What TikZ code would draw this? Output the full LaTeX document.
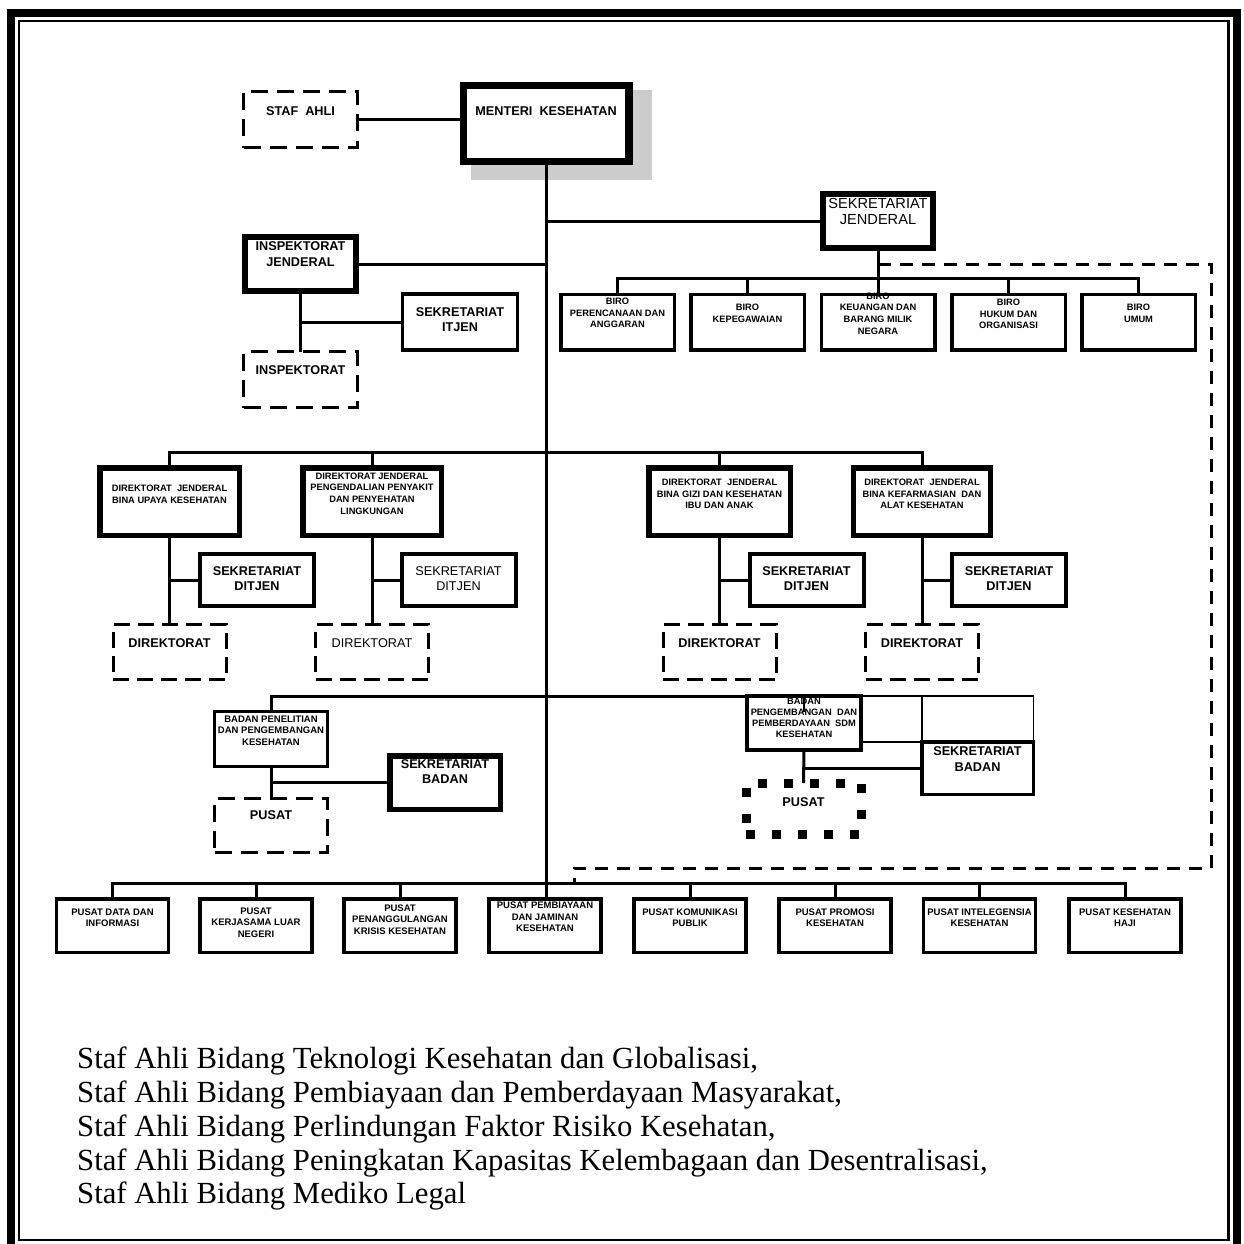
\documentclass[tikz,border=0pt]{standalone}
\usepackage{fontspec}
\setmainfont{Liberation Serif}
\setsansfont{Liberation Sans}
\begin{document}
\begin{tikzpicture}[x=1pt,y=-1pt,
  orgbox/.style={draw,line width=3.5pt,inner sep=0pt,outer sep=0pt},
  heavybox/.style={orgbox,line width=5.5pt},
  sekbox/.style={orgbox,line width=4pt},
  dashbox/.style={orgbox,line width=3pt,dash pattern=on 17pt off 9pt},
  dotbox/.style={orgbox,line width=9pt,dash pattern=on 9pt off 17pt},
  conn/.style={line width=3pt},
  gridline/.style={line width=1.5pt},
  bigtxt/.style={font=\sffamily\bfseries\fontsize{12.7}{15.5}\selectfont,align=center,inner sep=0pt},
  plaintxt/.style={bigtxt,font=\sffamily\mdseries\fontsize{12.7}{15.5}\selectfont},
  smalltxt/.style={font=\sffamily\bfseries\fontsize{9.3}{11.7}\selectfont,align=center,inner sep=0pt},
  pusattxt/.style={smalltxt,font=\sffamily\bfseries\fontsize{9.5}{11.3}\selectfont}]
\useasboundingbox (0,0) rectangle (1243,1244);
\draw [line width=8pt] (11,1244) -- (11,13) -- (1237,13) -- (1237,1244);
\draw [line width=2.5pt] (19,21) rectangle (1228.5,1240);
\fill [black!20] (471,90) rectangle (652,180);
\node [dashbox,minimum width=114,minimum height=56] (stafahli) at (300.5,119.5) {};
\node [orgbox,line width=7.5pt,fill=white,minimum width=165.5,minimum height=75.5] (menteri) at (546,123.5) {};
\node [orgbox,line width=6pt,minimum width=110,minimum height=54] (sekjen) at (878,221) {};
\node [orgbox,line width=6pt,minimum width=111,minimum height=54] (itjen) at (300.5,264) {};
\node [orgbox,minimum width=115,minimum height=56] (sitjen) at (460,322) {};
\node [dashbox,minimum width=114,minimum height=56] (insp) at (300.5,379.5) {};
\node [orgbox,minimum width=113.5,minimum height=55.5] (biro1) at (617.5,322) {};
\node [orgbox,minimum width=113.5,minimum height=55.5] (biro2) at (747.5,322) {};
\node [orgbox,minimum width=113.5,minimum height=55.5] (biro3) at (878,322) {};
\node [orgbox,minimum width=113.5,minimum height=55.5] (biro4) at (1008.5,322) {};
\node [orgbox,minimum width=113.5,minimum height=55.5] (biro5) at (1138.5,322) {};
\node [heavybox,minimum width=139.5,minimum height=67.5] (dj1) at (169.5,501.5) {};
\node [heavybox,minimum width=138.5,minimum height=67.5] (dj2) at (372,501.5) {};
\node [heavybox,minimum width=141.5,minimum height=67.5] (dj3) at (719.5,501.5) {};
\node [heavybox,minimum width=137,minimum height=67.5] (dj4) at (922,501.5) {};
\node [sekbox,minimum width=114,minimum height=52] (sd1) at (257,580) {};
\node [sekbox,minimum width=114,minimum height=52] (sd2) at (458.5,580) {};
\node [sekbox,minimum width=114,minimum height=52] (sd3) at (806.5,580) {};
\node [sekbox,minimum width=114,minimum height=52] (sd4) at (1009,580) {};
\node [dashbox,dash pattern=on 16pt off 8pt,minimum width=113,minimum height=55] (dir1) at (169.5,652) {};
\node [dashbox,dash pattern=on 16pt off 8pt,minimum width=113,minimum height=55] (dir2) at (372,652) {};
\node [dashbox,dash pattern=on 16pt off 8pt,minimum width=113,minimum height=55] (dir3) at (719.5,652) {};
\node [dashbox,dash pattern=on 16pt off 8pt,minimum width=113,minimum height=55] (dir4) at (922,652) {};
\node [orgbox,line width=3pt,minimum width=113,minimum height=55] (bppk) at (271,739) {};
\node [heavybox,minimum width=110.5,minimum height=53.5] (sbadan1) at (445,782.5) {};
\node [dashbox,minimum width=113,minimum height=54] (pusat1) at (271,825.5) {};
\node [sekbox,minimum width=114,minimum height=54] (bppsdm) at (804,723) {};
\node [orgbox,minimum width=111.5,minimum height=52.5] (sbadan2) at (977.5,768) {};
\node [dotbox,minimum width=115,minimum height=51] (pusat2) at (803.5,808.5) {};
\node [orgbox,minimum width=112,minimum height=53.5] (p1) at (112.5,925.5) {};
\node [orgbox,minimum width=112,minimum height=53.5] (p2) at (256,925.5) {};
\node [orgbox,minimum width=112,minimum height=53.5] (p3) at (400,925.5) {};
\node [orgbox,minimum width=112,minimum height=53.5] (p4) at (545,925.5) {};
\node [orgbox,minimum width=112,minimum height=53.5] (p5) at (690,925.5) {};
\node [orgbox,minimum width=112,minimum height=53.5] (p6) at (835,925.5) {};
\node [orgbox,minimum width=112,minimum height=53.5] (p7) at (979.5,925.5) {};
\node [orgbox,minimum width=112,minimum height=53.5] (p8) at (1125,925.5) {};
\node [bigtxt] (tstafahli) at (300.5,111) {STAF\ \ AHLI};
\node [bigtxt] (tmenteri) at (546,111) {MENTERI\ \ KESEHATAN};
\node [plaintxt,font=\sffamily\mdseries\fontsize{14.6}{16}\selectfont] (tsekjen) at (878,211) {SEKRETARIAT\\JENDERAL};
\node [bigtxt] (titjen) at (300.5,254) {INSPEKTORAT\\JENDERAL};
\node [bigtxt] (tsitjen) at (460,319.5) {SEKRETARIAT\\ITJEN};
\node [bigtxt] (tinsp) at (300.5,370) {INSPEKTORAT};
\node [smalltxt] (tbiro1) at (617.5,313) {BIRO\\PERENCANAAN DAN\\ANGGARAN};
\node [smalltxt] (tbiro2) at (747.5,313) {BIRO\\KEPEGAWAIAN};
\node [smalltxt] (tbiro3) at (878,313.5) {BIRO\\KEUANGAN DAN\\BARANG MILIK\\NEGARA};
\node [smalltxt] (tbiro4) at (1008.5,314) {BIRO\\HUKUM DAN\\ORGANISASI};
\node [smalltxt] (tbiro5) at (1138.5,313) {BIRO\\UMUM};
\node [smalltxt] (tdj1) at (169.5,494) {DIREKTORAT\ \ JENDERAL\\BINA UPAYA KESEHATAN};
\node [smalltxt] (tdj2) at (372,493.5) {DIREKTORAT JENDERAL\\PENGENDALIAN PENYAKIT\\DAN PENYEHATAN\\LINGKUNGAN};
\node [smalltxt] (tdj3) at (719.5,494) {DIREKTORAT\ \ JENDERAL\\BINA GIZI DAN KESEHATAN\\IBU DAN ANAK};
\node [smalltxt] (tdj4) at (922,494) {DIREKTORAT\ \ JENDERAL\\BINA KEFARMASIAN\ \ DAN\\ALAT KESEHATAN};
\node [bigtxt] (tsd1) at (257,578.5) {SEKRETARIAT\\DITJEN};
\node [plaintxt] (tsd2) at (458.5,578.5) {SEKRETARIAT\\DITJEN};
\node [bigtxt] (tsd3) at (806.5,578.5) {SEKRETARIAT\\DITJEN};
\node [bigtxt] (tsd4) at (1009,578.5) {SEKRETARIAT\\DITJEN};
\node [bigtxt] (tdir1) at (169.5,643) {DIREKTORAT};
\node [plaintxt] (tdir2) at (372,643) {DIREKTORAT};
\node [bigtxt] (tdir3) at (719.5,643) {DIREKTORAT};
\node [bigtxt] (tdir4) at (922,643) {DIREKTORAT};
\node [smalltxt,font=\sffamily\bfseries\fontsize{9.5}{11.5}\selectfont] (tbppk) at (271,730.7) {BADAN PENELITIAN\\DAN PENGEMBANGAN\\KESEHATAN};
\node [bigtxt] (tsbadan1) at (445,771.5) {SEKRETARIAT\\BADAN};
\node [bigtxt] (tpusat1) at (271,815) {PUSAT};
\node [smalltxt,font=\sffamily\bfseries\fontsize{9.3}{11}\selectfont] (tbppsdm) at (804,717.75) {BADAN\\PENGEMBANGAN\ \ DAN\\PEMBERDAYAAN\ \ SDM\\KESEHATAN};
\node [bigtxt] (tsbadan2) at (977.5,759) {SEKRETARIAT\\BADAN};
\node [bigtxt] (tpusat2) at (803.5,802) {PUSAT};
\node [pusattxt] (tp1) at (112.5,917.5) {PUSAT DATA DAN\\INFORMASI};
\node [pusattxt] (tp2) at (256,922.5) {PUSAT\\KERJASAMA LUAR\\NEGERI};
\node [pusattxt] (tp3) at (400,919.5) {PUSAT\\PENANGGULANGAN\\KRISIS KESEHATAN};
\node [pusattxt] (tp4) at (545,917) {PUSAT PEMBIAYAAN\\DAN JAMINAN\\KESEHATAN};
\node [pusattxt] (tp5) at (690,917.5) {PUSAT KOMUNIKASI\\PUBLIK};
\node [pusattxt] (tp6) at (835,917.5) {PUSAT PROMOSI\\KESEHATAN};
\node [pusattxt] (tp7) at (979.5,917.5) {PUSAT INTELEGENSIA\\KESEHATAN};
\node [pusattxt] (tp8) at (1125,917.5) {PUSAT KESEHATAN\\HAJI};
\node [anchor=north west,inner sep=0pt,align=left,font=\rmfamily\fontsize{30.7}{33.75}\selectfont] (stafnote) at (77,1047) {Staf Ahli Bidang Teknologi Kesehatan dan Globalisasi,\\Staf Ahli Bidang Pembiayaan dan Pemberdayaan Masyarakat,\\Staf Ahli Bidang Perlindungan Faktor Risiko Kesehatan,\\Staf Ahli Bidang Peningkatan Kapasitas Kelembagaan dan Desentralisasi,\\Staf Ahli Bidang Mediko Legal};
\coordinate (birobus) at (878,278);
\coordinate (djbus) at (546,452);
\coordinate (badanbus) at (546,696);
\coordinate (pusatbus) at (546,883);
\coordinate (sjtap) at (878,264);
\coordinate (ptap) at (574,883);
\draw [conn] (stafahli.east) -- (menteri.west |- stafahli.east);
\draw [conn] (menteri.south) -- (menteri.south |- p4.north);
\draw [conn] (menteri.south |- sekjen.west) -- (sekjen.west);
\draw [conn] (itjen.east) -- (menteri.south |- itjen.east);
\draw [conn] (itjen.south) -- (insp.north);
\draw [conn] (itjen.south |- sitjen.west) -- (sitjen.west);
\draw [conn] (sekjen.south) -- (biro3.north);
\draw [conn] (biro1.north) -- (biro1.north |- birobus) -- (biro5.north |- birobus) -- (biro5.north);
\draw [conn] (biro2.north) -- (biro2.north |- birobus);
\draw [conn] (biro4.north) -- (biro4.north |- birobus);
\draw [conn,dash pattern=on 13pt off 9pt] (sjtap) -- (1211,264) -- (1211,868) -- (ptap |- 0,868) -- (ptap);
\draw [conn] (dj1.north) -- (dj1.north |- djbus) -- (dj4.north |- djbus) -- (dj4.north);
\draw [conn] (dj2.north) -- (dj2.north |- djbus);
\draw [conn] (dj3.north) -- (dj3.north |- djbus);
\draw [conn] (dj1.south) -- (dir1.north);
\draw [conn] (dj2.south) -- (dir2.north);
\draw [conn] (dj3.south) -- (dir3.north);
\draw [conn] (dj4.south) -- (dir4.north);
\draw [conn] (dj1.south |- sd1.west) -- (sd1.west);
\draw [conn] (dj2.south |- sd2.west) -- (sd2.west);
\draw [conn] (dj3.south |- sd3.west) -- (sd3.west);
\draw [conn] (dj4.south |- sd4.west) -- (sd4.west);
\draw [conn] (bppk.north) -- (bppk.north |- badanbus) -- (bppsdm.north west);
\draw [gridline] (bppsdm.north) -- ++(0,16);
\draw [gridline] (bppsdm.north east) -- (sbadan2.north east |- bppsdm.north east) -- (sbadan2.north east);
\draw [gridline] (sbadan2.north west |- bppsdm.north east) -- (sbadan2.north west);
\draw [gridline] (bppsdm.east |- sbadan2.north west) -- (sbadan2.north west);
\draw [conn] (bppk.south) -- (pusat1.north);
\draw [conn] (bppk.south |- sbadan1.west) -- (sbadan1.west);
\draw [conn] (bppsdm.south) -- (pusat2.north);
\draw [conn] (bppsdm.south |- sbadan2.west) -- (sbadan2.west);
\draw [conn] (p1.north) -- (p1.north |- pusatbus) -- (p8.north |- pusatbus) -- (p8.north);
\draw [conn] (p2.north) -- (p2.north |- pusatbus);
\draw [conn] (p3.north) -- (p3.north |- pusatbus);
\draw [conn] (p5.north) -- (p5.north |- pusatbus);
\draw [conn] (p6.north) -- (p6.north |- pusatbus);
\draw [conn] (p7.north) -- (p7.north |- pusatbus);
\end{tikzpicture}
\end{document}
